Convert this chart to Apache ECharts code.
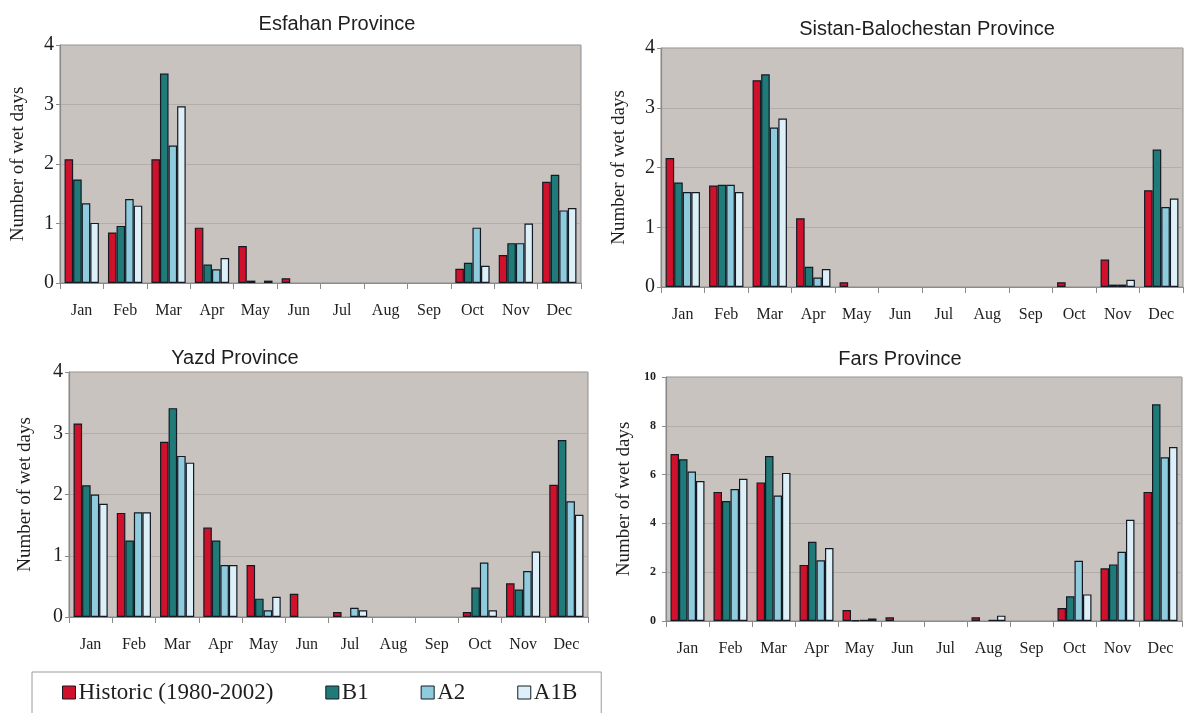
<!DOCTYPE html>
<html>
<head>
<meta charset="utf-8">
<script src="https://cdn.jsdelivr.net/npm/echarts@6/dist/echarts.min.js"></script>
<style>
  html, body { margin: 0; padding: 0; background: #ffffff; }
  #chart { width: 1187px; height: 713px; }
</style>
</head>
<body>
<div id="chart"></div>
<script>
// Monthly number of wet days, historic vs. climate scenarios
const months = ['Jan', 'Feb', 'Mar', 'Apr', 'May', 'Jun', 'Jul', 'Aug', 'Sep', 'Oct', 'Nov', 'Dec'];
const seriesNames = ['Historic (1980-2002)', 'B1', 'A2', 'A1B'];
const seriesColors = ['#d0112b', '#1f7a78', '#8ecbdd', '#ddf0f7'];

const esfahanHistoric = [2.08, 0.85, 2.08, 0.93, 0.62, 0.08, 0, 0, 0, 0.24, 0.47, 1.70];
const esfahanB1       = [1.74, 0.96, 3.52, 0.31, 0.04, 0, 0, 0, 0, 0.34, 0.67, 1.82];
const esfahanA2       = [1.34, 1.41, 2.31, 0.23, 0, 0, 0, 0, 0, 0.93, 0.67, 1.22];
const esfahanA1B      = [1.01, 1.30, 2.97, 0.42, 0.04, 0, 0, 0, 0, 0.29, 1.00, 1.26];

const sistanHistoric = [2.16, 1.70, 3.46, 1.15, 0.08, 0, 0, 0, 0, 0.08, 0.46, 1.62];
const sistanB1       = [1.75, 1.71, 3.56, 0.34, 0, 0, 0, 0, 0, 0, 0.04, 2.30];
const sistanA2       = [1.59, 1.71, 2.67, 0.16, 0, 0, 0, 0, 0, 0, 0.04, 1.34];
const sistanA1B      = [1.59, 1.59, 2.82, 0.30, 0, 0, 0, 0, 0, 0, 0.12, 1.48];

const yazdHistoric = [3.16, 1.70, 2.86, 1.46, 0.85, 0.38, 0.08, 0, 0, 0.08, 0.55, 2.16];
const yazdB1       = [2.15, 1.25, 3.41, 1.25, 0.30, 0, 0, 0, 0, 0.48, 0.45, 2.89];
const yazdA2       = [2.00, 1.71, 2.63, 0.85, 0.11, 0, 0.15, 0, 0, 0.89, 0.75, 1.89];
const yazdA1B      = [1.85, 1.71, 2.52, 0.85, 0.33, 0, 0.11, 0, 0, 0.11, 1.07, 1.67];

const farsHistoric = [6.84, 5.29, 5.68, 2.30, 0.45, 0.15, 0, 0.15, 0, 0.53, 2.16, 5.29];
const farsB1       = [6.63, 4.92, 6.76, 3.25, 0.03, 0, 0, 0, 0, 1.01, 2.32, 8.88];
const farsA2       = [6.13, 5.41, 5.14, 2.49, 0.05, 0, 0, 0.05, 0, 2.47, 2.84, 6.71];
const farsA1B      = [5.74, 5.83, 6.07, 2.99, 0.10, 0, 0, 0.22, 0, 1.09, 4.15, 7.13];

const yTicks4 = [0, 1, 2, 3, 4];
const yTicks10 = [0, 2, 4, 6, 8, 10];

const panels = [
  { title: 'Esfahan Province', data: [esfahanHistoric, esfahanB1, esfahanA2, esfahanA1B], ticks: yTicks4,
    grid: { left: 60, top: 45, width: 521, height: 238 }, titlePos: { x: 332, y: 9 }, yFont: 20, nameGap: 32 },
  { title: 'Sistan-Balochestan Province', data: [sistanHistoric, sistanB1, sistanA2, sistanA1B], ticks: yTicks4,
    grid: { left: 661, top: 48, width: 522, height: 239 }, titlePos: { x: 922, y: 14 }, yFont: 20, nameGap: 32 },
  { title: 'Yazd Province', data: [yazdHistoric, yazdB1, yazdA2, yazdA1B], ticks: yTicks4,
    grid: { left: 69, top: 372, width: 519, height: 245 }, titlePos: { x: 230, y: 343 }, yFont: 20, nameGap: 34 },
  { title: 'Fars Province', data: [farsHistoric, farsB1, farsA2, farsA1B], ticks: yTicks10,
    grid: { left: 666, top: 377, width: 516, height: 244 }, titlePos: { x: 895, y: 344 }, yFont: 12, nameGap: 32 }
];

const serif = '"Liberation Serif", "DejaVu Serif", serif';
const sans = '"Liberation Sans", Arial, sans-serif';

const grids = [], xAxes = [], yAxes = [], series = [], titles = [];

panels.forEach((p, i) => {
  grids.push(Object.assign({
    show: true, backgroundColor: '#c8c3bf', borderColor: '#8e8e8e', borderWidth: 1
  }, p.grid));

  titles.push({
    text: p.title, left: p.titlePos.x, top: p.titlePos.y, textAlign: 'center',
    textStyle: { fontFamily: sans, fontSize: 20, fontWeight: 'normal', color: '#1e1e1e' }
  });

  xAxes.push({
    type: 'category', gridIndex: i, data: months, boundaryGap: true,
    axisLine: { lineStyle: { color: '#8a8a8a', width: 1.2 } },
    axisTick: { show: true, length: 6, lineStyle: { color: '#8a8a8a' } },
    axisLabel: { fontFamily: serif, fontSize: 16, color: '#1e1e1e', margin: 20 }
  });

  const maxV = p.ticks[p.ticks.length - 1];
  yAxes.push({
    type: 'value', gridIndex: i, min: 0, max: maxV, interval: p.ticks[1] - p.ticks[0],
    name: 'Number of wet days', nameLocation: 'middle', nameGap: p.nameGap,
    nameTextStyle: { fontFamily: serif, fontSize: 19, color: '#1e1e1e' },
    axisLine: { show: true, lineStyle: { color: '#8a8a8a', width: 1.2 } },
    axisTick: { show: true, length: 4, lineStyle: { color: '#8a8a8a' } },
    axisLabel: { fontFamily: serif, fontSize: p.yFont, fontWeight: p.yFont < 14 ? 'bold' : 'normal',
                 color: '#1e1e1e', margin: p.yFont < 14 ? 10 : 6 },
    splitLine: { show: true, lineStyle: { color: '#b3ada9', width: 1 } }
  });

  p.data.forEach((vals, k) => {
    series.push({
      type: 'bar', name: seriesNames[k], xAxisIndex: i, yAxisIndex: i,
      // months with no wet days get no bar at all
      data: vals.map(v => (v === 0 ? null : v)),
      barGap: '0%', barCategoryGap: '21%',
      itemStyle: { color: seriesColors[k], borderColor: '#141a24', borderWidth: 1.2 },
      emphasis: { disabled: true }
    });
  });
});

const chart = echarts.init(document.getElementById('chart'), null, { renderer: 'canvas' });
chart.setOption({
  animation: false,
  backgroundColor: '#ffffff',
  title: titles,
  grid: grids,
  xAxis: xAxes,
  yAxis: yAxes,
  series: series,
  legend: {
    data: seriesNames, left: 32, top: 672, width: 600,
    padding: [9, 24, 24, 30], itemGap: 52, itemWidth: 13, itemHeight: 13,
    icon: 'rect',
    backgroundColor: '#ffffff', borderColor: '#9a9a9a', borderWidth: 1,
    textStyle: { fontFamily: serif, fontSize: 23, color: '#1e1e1e', padding: [0, 0, 0, -2] },
    itemStyle: { borderColor: '#141a24', borderWidth: 1 }
  }
});
</script>
</body>
</html>
